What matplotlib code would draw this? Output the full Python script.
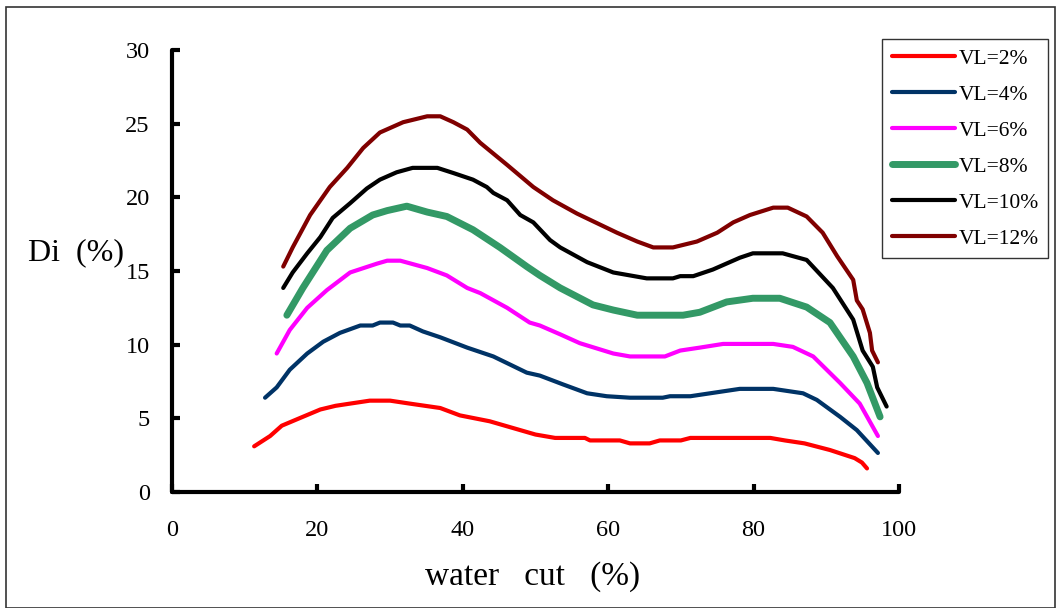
import matplotlib.pyplot as plt
from matplotlib.patches import Rectangle

plt.rcParams['font.family'] = ['Liberation Serif', 'DejaVu Serif']

# ---- data ----
x_vl2 = [11.3, 13.5, 15.1, 17.5, 20.4, 22.5, 24.5, 27.2, 30.0, 32.7, 36.9, 39.6, 43.7, 47.2, 50.0,
         52.7, 56.8, 57.5, 61.6, 63.0, 65.7, 67.1, 70.0, 71.3, 82.3, 84.3, 87.0, 90.5, 93.9, 94.9, 95.6]
y_vl2 = [3.1, 3.8, 4.5, 5.0, 5.6, 5.85, 6.0, 6.2, 6.2, 6.0, 5.7, 5.2, 4.8, 4.3, 3.9,
         3.67, 3.67, 3.5, 3.5, 3.3, 3.3, 3.5, 3.5, 3.67, 3.67, 3.5, 3.3, 2.85, 2.3, 2.0, 1.6]

x_vl4 = [12.8, 14.4, 16.2, 18.6, 20.8, 23.1, 25.9, 27.6, 28.6, 30.4, 31.4, 32.7, 34.5, 36.9, 40.6,
         44.2, 48.8, 50.6, 53.8, 57.1, 59.8, 63.0, 67.5, 68.5, 71.3, 78.1, 82.7, 86.8, 88.7, 91.9, 94.2, 97.1]
y_vl4 = [6.4, 7.1, 8.3, 9.4, 10.2, 10.8, 11.3, 11.3, 11.5, 11.5, 11.3, 11.3, 10.9, 10.5, 9.8,
         9.2, 8.1, 7.9, 7.3, 6.7, 6.5, 6.4, 6.4, 6.5, 6.5, 7.0, 7.0, 6.7, 6.25, 5.1, 4.2, 2.65]

x_vl6 = [14.4, 16.2, 18.6, 21.3, 24.5, 28.2, 29.6, 31.4, 35.1, 37.8, 40.6, 42.4, 46.1, 49.2, 50.6,
         53.4, 56.1, 60.7, 63.0, 67.8, 69.9, 72.6, 75.8, 82.7, 85.4, 88.2, 91.9, 94.6, 97.1]
y_vl6 = [9.4, 11.0, 12.5, 13.7, 14.9, 15.5, 15.7, 15.7, 15.2, 14.7, 13.85, 13.5, 12.5, 11.5, 11.3,
         10.7, 10.1, 9.4, 9.2, 9.2, 9.6, 9.8, 10.05, 10.05, 9.85, 9.2, 7.4, 6.0, 3.8]

x_vl8 = [15.8, 18.0, 21.3, 24.5, 27.6, 29.6, 32.3, 35.1, 37.8, 41.4, 45.1, 48.8, 50.6, 53.4,
         57.9, 60.7, 64.0, 70.3, 72.6, 76.3, 79.9, 83.6, 87.3, 90.5, 93.7, 95.6, 97.4]
y_vl8 = [12.0, 13.85, 16.4, 17.9, 18.8, 19.1, 19.4, 19.0, 18.7, 17.8, 16.6, 15.3, 14.7, 13.85,
         12.7, 12.35, 12.0, 12.0, 12.2, 12.9, 13.15, 13.15, 12.55, 11.5, 9.2, 7.4, 5.1]

x_vl10 = [15.3, 16.6, 18.6, 20.4, 22.1, 24.5, 26.8, 28.6, 30.9, 33.1, 36.5, 38.7, 41.4, 43.3, 44.2,
          46.1, 47.9, 49.7, 52.0, 53.4, 57.1, 60.7, 65.3, 68.9, 69.9, 71.7, 74.4, 78.1, 79.9, 84.0,
          87.3, 90.9, 93.7, 95.0, 96.4, 97.0, 98.3]
y_vl10 = [13.85, 14.9, 16.2, 17.3, 18.6, 19.6, 20.6, 21.2, 21.7, 22.0, 22.0, 21.65, 21.2, 20.7, 20.3,
          19.8, 18.8, 18.3, 17.1, 16.6, 15.6, 14.9, 14.5, 14.5, 14.65, 14.65, 15.1, 15.9, 16.2, 16.2,
          15.75, 13.85, 11.7, 9.6, 8.5, 7.1, 5.8]

x_vl12 = [15.3, 16.6, 19.0, 21.7, 24.1, 26.3, 28.6, 31.8, 35.1, 36.9, 38.7, 40.6, 42.4, 46.1, 49.7,
          52.4, 55.7, 61.2, 64.0, 66.2, 68.9, 72.2, 75.0, 77.2, 79.5, 82.7, 84.7, 87.3, 89.5, 91.5,
          93.7, 94.2, 95.0, 96.0, 96.3, 97.1]
y_vl12 = [15.3, 16.6, 18.8, 20.7, 22.0, 23.35, 24.4, 25.1, 25.5, 25.5, 25.1, 24.6, 23.7, 22.2, 20.7,
          19.8, 18.9, 17.6, 17.0, 16.6, 16.6, 17.0, 17.6, 18.3, 18.8, 19.3, 19.3, 18.7, 17.6, 16.0,
          14.4, 13.0, 12.4, 10.8, 9.6, 8.8]

labels = ['VL=2%', 'VL=4%', 'VL=6%', 'VL=8%', 'VL=10%', 'VL=12%']
colors = ['#ff0000', '#003366', '#ff00ff', '#339966', '#000000', '#800000']
widths = [3, 3, 3, 5, 3, 3]
xticks = [0, 20, 40, 60, 80, 100]
yticks = [0, 5, 10, 15, 20, 25, 30]

series = [(x_vl2, y_vl2), (x_vl4, y_vl4), (x_vl6, y_vl6),
          (x_vl8, y_vl8), (x_vl10, y_vl10), (x_vl12, y_vl12)]

fig = plt.figure(figsize=(10.58, 6.08), dpi=100)
ax = fig.add_axes([172 / 1058, 1 - 492 / 608, 727 / 1058, 442 / 608])

for (xs, ys), lab, c, lw in zip(series, labels, colors, widths):
    ax.plot(xs, ys, color=c, lw=lw, label=lab, solid_capstyle='round', solid_joinstyle='round')

ax.set_xlim(0, 100)
ax.set_ylim(0, 30)
ax.set_xticks(xticks)
ax.set_yticks(yticks)
ax.tick_params(direction='in', length=6, width=3, labelsize=17.5, color='black')
ax.tick_params(axis='x', pad=20)
ax.tick_params(axis='y', pad=16)
for s in ['top', 'right']:
    ax.spines[s].set_visible(False)
for s in ['left', 'bottom']:
    ax.spines[s].set_linewidth(3)
    ax.spines[s].set_capstyle('round')

fig.text(533 / 1058, 1 - 577 / 608, 'water   cut   (%)', fontsize=24, ha='center', va='center')
fig.text(28 / 1058, 1 - 253 / 608, 'Di  (%)', fontsize=23, ha='left', va='center')

leg = fig.legend(loc='upper left', bbox_to_anchor=(882 / 1058, 1 - 39 / 608),
                 frameon=True, fancybox=False, fontsize=15.5, handlelength=2.95,
                 handletextpad=0.15, labelspacing=0.74, borderpad=0.45, borderaxespad=0)
leg.get_frame().set_edgecolor('black')
leg.get_frame().set_linewidth(1)

# outer frame around the whole chart
fig.patches.append(Rectangle((6 / 1058, 0), 1049 / 1058, 1 - 7 / 608, transform=fig.transFigure,
                             fill=False, edgecolor='#333333', lw=1.2))

fig.savefig('out.png', dpi=100)
